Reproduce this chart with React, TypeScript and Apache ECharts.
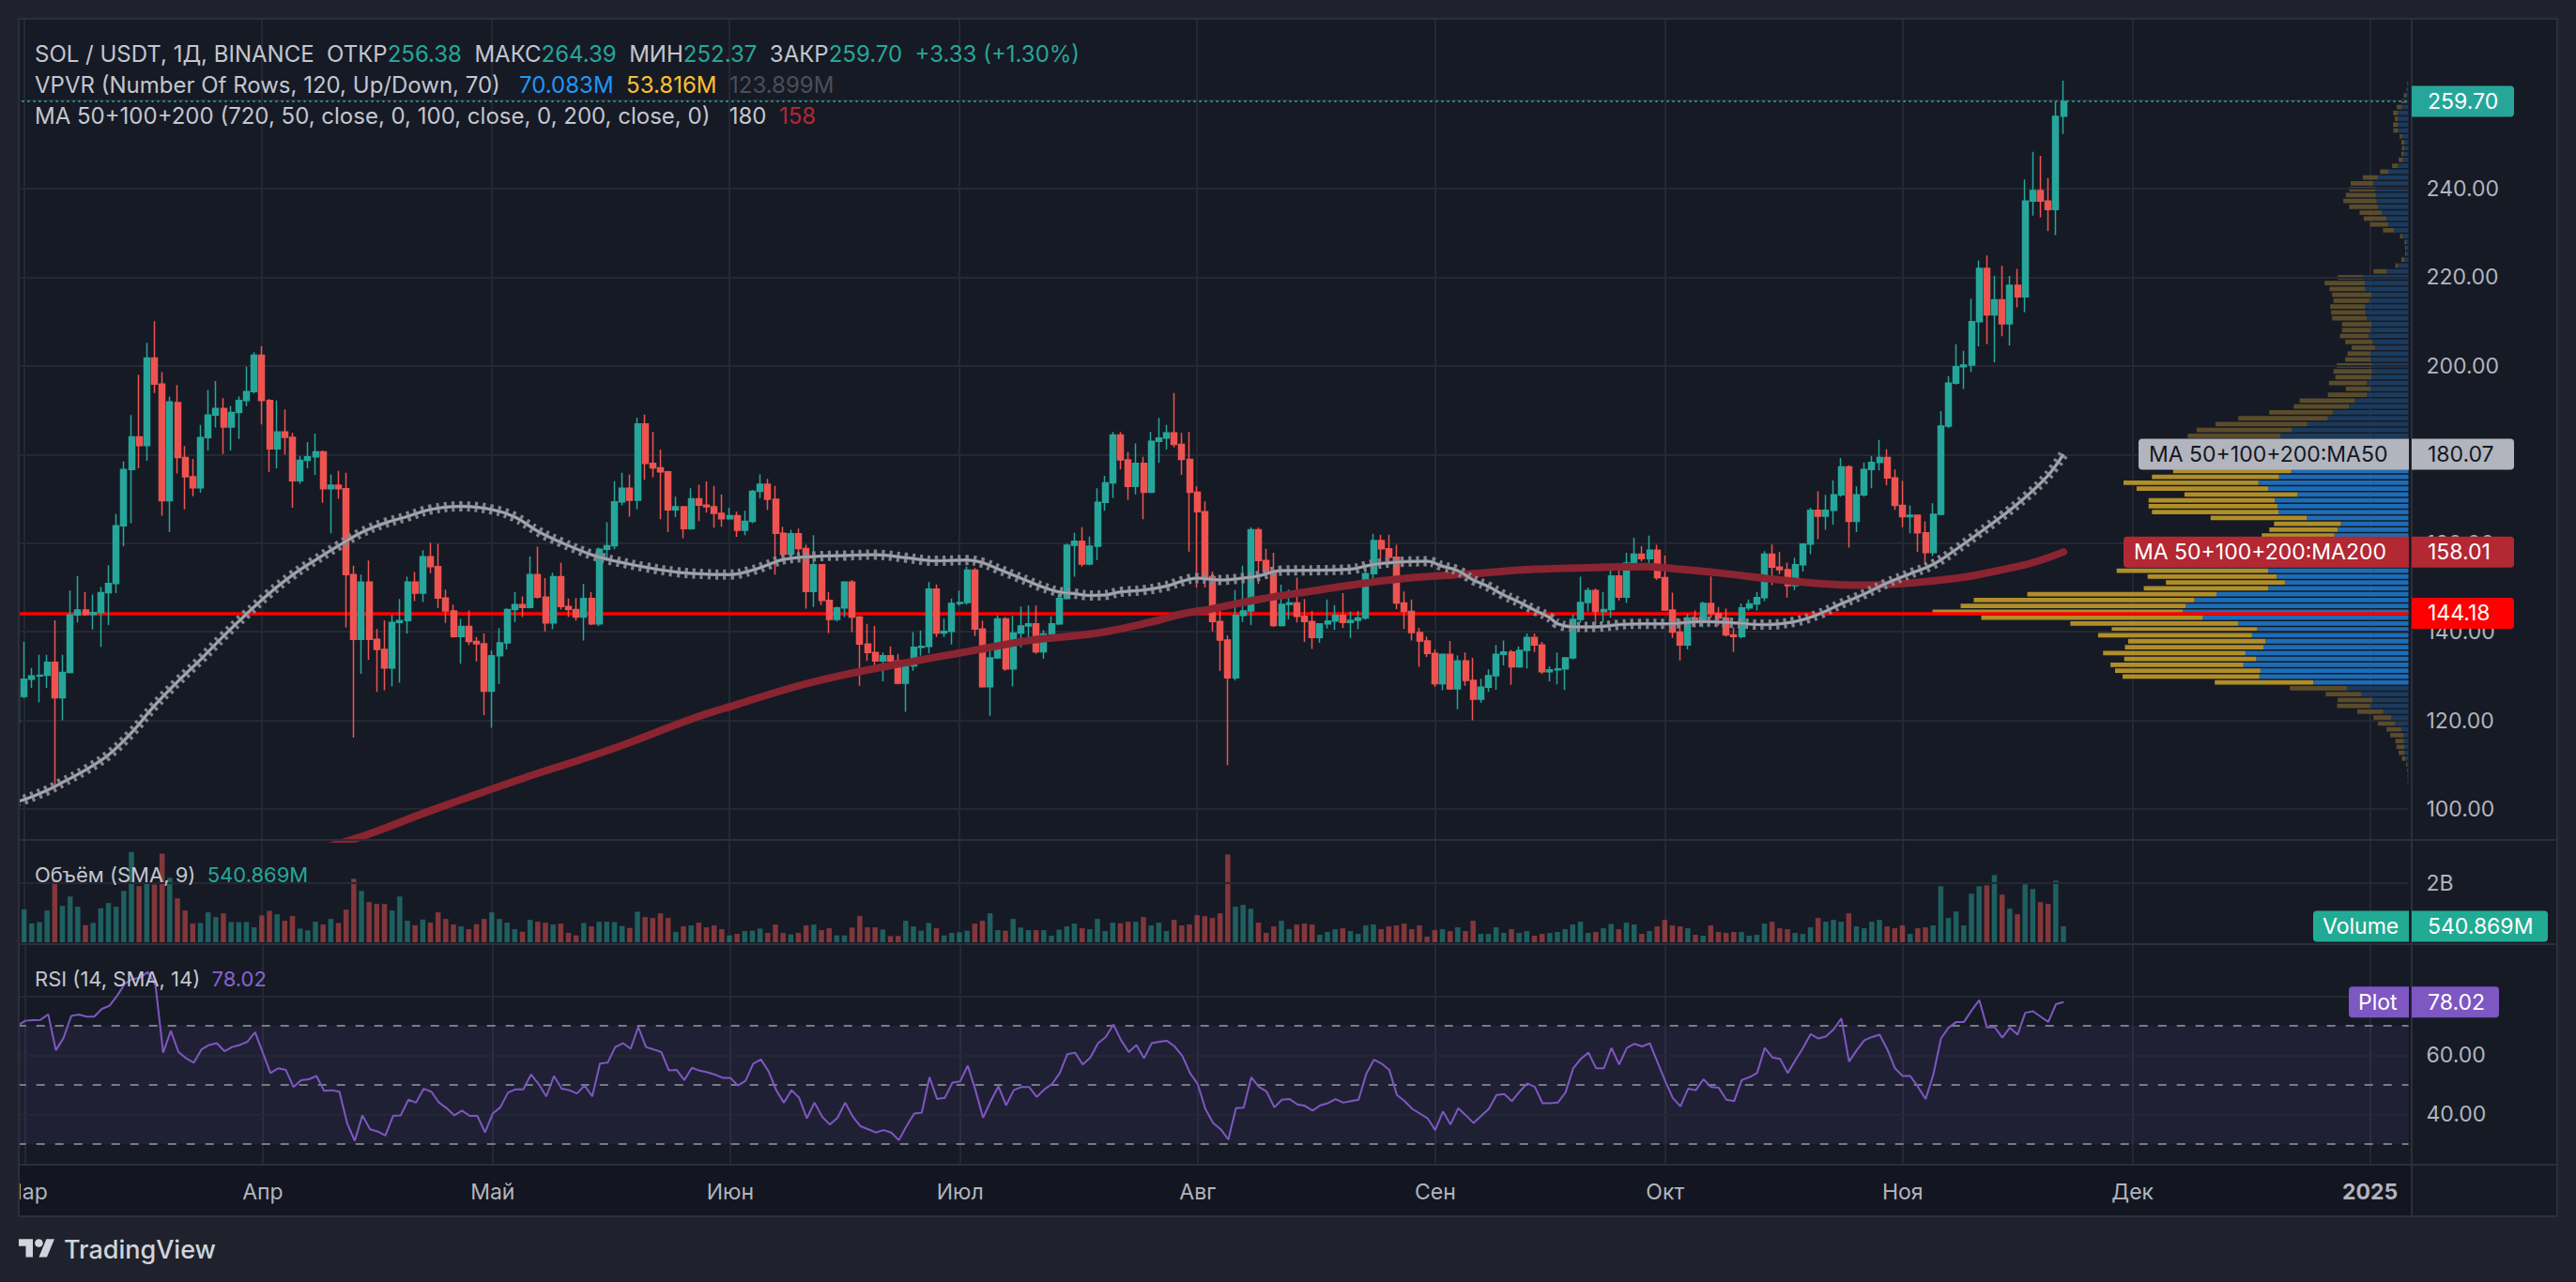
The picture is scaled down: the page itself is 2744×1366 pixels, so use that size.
import React, { useEffect, useRef } from "react";
import * as echarts from "echarts";

const W = 2744;
const H = 1366;
const FONT = "Inter, 'Noto Sans', Roboto, sans-serif";
const UP = "#26a69a";
const DOWN = "#ef5350";
const TEXT = "#c3c6ce";
const AXIS_TEXT = "#b2b5be";
const GRID_C = "#242833";
const SEP = "#2b2f3a";
const OUTER = "#1f222c";
const PANE = "#161a25";

// ---------------- DATA ----------------
// daily candles [open, high, low, close], index 0 = 29 Feb 2024
const candles: [number, number, number, number][] = [
  [119.5, 126.5, 118.7, 125.4],
  [125.4, 137.7, 125.0, 129.3], [129.3, 131.8, 127.3, 130.0], [130.0, 134.8, 124.1, 130.2], [130.2, 134.8, 127.3, 133.1],
  [133.1, 142.6, 105.4, 125.1], [125.1, 134.8, 120.0, 130.8], [130.8, 149.3, 130.6, 143.8], [143.8, 152.6, 142.1, 144.9],
  [144.9, 149.0, 143.6, 143.9], [143.9, 148.4, 140.5, 144.3], [144.3, 150.1, 136.6, 148.8], [148.8, 155.0, 141.5, 150.9],
  [150.9, 166.6, 148.7, 163.9], [163.9, 178.4, 159.3, 176.6], [176.6, 188.9, 164.5, 184.0], [184.0, 198.0, 176.9, 182.0],
  [182.0, 205.2, 178.6, 201.8], [201.8, 210.1, 193.9, 195.9], [195.9, 198.6, 166.2, 169.6], [169.6, 193.1, 162.5, 191.9],
  [191.7, 195.7, 175.7, 179.3], [179.3, 181.9, 167.6, 175.0], [175.0, 179.0, 170.6, 172.5], [172.5, 186.7, 171.4, 183.8],
  [183.8, 194.6, 180.9, 188.9], [188.9, 196.6, 186.1, 190.4], [190.4, 192.7, 180.1, 186.2], [186.2, 191.0, 180.9, 189.5],
  [189.5, 193.1, 183.5, 192.2], [192.2, 199.8, 190.9, 194.2], [194.2, 203.1, 193.8, 202.4],
  [202.4, 204.4, 186.8, 192.2], [192.2, 192.5, 176.1, 181.3], [181.3, 192.2, 176.9, 185.1], [185.1, 190.2, 180.0, 183.9],
  [183.9, 184.9, 168.0, 174.1], [174.1, 179.7, 173.4, 178.7], [178.7, 182.8, 176.9, 179.5], [179.5, 184.7, 175.4, 180.6],
  [180.6, 180.9, 169.1, 172.3], [172.3, 175.5, 162.2, 173.1], [173.1, 176.3, 170.0, 172.3], [172.3, 175.9, 141.0, 152.9],
  [152.9, 154.9, 116.1, 138.3], [138.3, 152.9, 130.5, 151.2], [151.2, 156.1, 133.7, 138.3], [138.3, 140.6, 126.4, 136.0],
  [136.0, 142.6, 126.8, 131.8], [131.8, 143.8, 127.7, 142.1], [142.1, 147.4, 128.5, 142.5], [142.5, 152.4, 139.6, 151.2],
  [151.2, 153.5, 146.9, 148.7], [148.7, 158.4, 146.7, 156.9], [156.9, 160.1, 153.2, 154.7], [154.7, 159.9, 145.4, 147.6],
  [147.6, 149.5, 142.0, 144.7], [144.7, 146.1, 138.7, 138.9], [138.9, 142.9, 132.8, 141.2], [141.2, 144.8, 137.0, 137.8],
  [137.8, 138.8, 133.3, 137.3], [137.3, 139.6, 121.2, 126.6],
  [126.6, 135.8, 118.4, 134.6], [134.6, 140.8, 128.2, 137.5], [137.5, 145.3, 136.0, 145.0], [145.0, 149.0, 142.2, 146.1],
  [146.1, 148.0, 143.3, 145.5], [145.5, 157.0, 145.3, 152.9], [152.9, 159.2, 147.5, 147.8], [147.8, 152.1, 140.1, 142.0],
  [142.0, 153.3, 140.6, 152.4], [152.4, 155.6, 145.0, 145.7], [145.7, 147.5, 143.3, 145.0], [145.0, 147.6, 142.5, 143.3],
  [143.3, 150.8, 138.0, 147.5], [147.5, 149.0, 141.5, 141.8], [141.8, 159.0, 141.3, 158.6], [158.6, 164.7, 156.7, 159.4],
  [159.4, 174.0, 158.6, 169.3], [169.3, 175.9, 168.5, 172.4], [172.4, 175.5, 166.0, 169.7], [169.7, 188.3, 167.6, 186.9],
  [186.9, 189.0, 174.3, 178.0], [178.0, 185.1, 174.9, 177.0], [177.0, 181.1, 165.4, 176.1], [176.1, 176.3, 162.5, 167.5],
  [167.5, 170.5, 165.9, 168.2], [168.2, 168.3, 161.1, 163.3], [163.3, 172.4, 163.0, 170.0], [170.0, 173.2, 165.0, 168.6],
  [168.6, 173.9, 166.9, 168.2], [168.2, 172.9, 163.5, 166.7], [166.7, 171.0, 163.7, 165.5],
  [165.5, 168.0, 165.3, 166.2], [166.2, 167.1, 161.4, 162.9], [162.9, 167.3, 161.8, 164.9], [164.9, 172.0, 164.5, 171.7],
  [171.7, 175.5, 170.1, 173.3], [173.3, 174.5, 167.5, 169.9], [169.9, 172.9, 152.9, 162.2], [162.2, 163.7, 157.2, 157.5],
  [157.5, 163.0, 156.7, 162.1], [162.1, 163.3, 157.5, 158.8], [158.8, 159.6, 145.2, 149.1], [149.1, 161.8, 145.6, 155.1],
  [155.1, 155.3, 146.0, 147.1], [147.1, 149.0, 139.7, 142.8], [142.8, 145.7, 142.3, 145.4], [145.4, 151.4, 143.3, 151.2],
  [151.2, 151.7, 139.9, 143.3], [143.3, 143.6, 127.8, 137.2], [137.2, 141.8, 133.4, 135.3], [135.3, 141.3, 131.9, 133.4],
  [133.4, 135.3, 128.8, 134.6], [134.6, 136.7, 133.1, 133.4], [133.4, 135.0, 128.1, 128.4], [128.4, 132.5, 121.9, 132.3],
  [132.3, 139.9, 131.2, 136.5], [136.5, 140.3, 134.6, 136.7], [136.7, 151.2, 135.1, 149.6], [149.6, 150.7, 138.8, 139.7],
  [139.7, 143.0, 138.8, 140.1], [140.1, 147.5, 137.1, 146.4],
  [146.4, 149.3, 145.9, 146.6], [146.6, 154.7, 146.1, 153.9], [153.9, 154.4, 139.0, 140.6], [140.6, 142.5, 127.4, 127.6],
  [127.6, 136.5, 121.0, 134.1], [134.1, 143.7, 133.9, 142.9], [142.9, 143.3, 131.2, 131.6], [131.6, 143.6, 127.7, 139.7],
  [139.7, 145.7, 136.5, 141.3], [141.3, 145.9, 138.5, 141.8], [141.8, 145.9, 135.0, 135.5], [135.5, 140.4, 133.9, 139.5],
  [139.5, 143.5, 137.8, 141.8], [141.8, 148.6, 141.5, 147.5], [147.5, 159.9, 147.3, 159.5], [159.5, 162.3, 152.4, 160.4],
  [160.4, 163.6, 154.7, 155.3], [155.3, 161.5, 155.0, 159.3], [159.3, 172.4, 156.2, 169.2], [169.2, 175.2, 167.3, 173.6],
  [173.6, 185.1, 170.2, 184.4], [184.4, 185.1, 176.6, 178.8], [178.8, 180.6, 169.8, 172.8], [172.8, 182.5, 171.0, 178.0],
  [178.0, 179.5, 165.4, 171.5], [171.5, 185.1, 171.3, 183.0], [183.0, 188.3, 178.1, 183.7], [183.7, 186.7, 181.1, 184.9],
  [184.9, 193.9, 181.6, 182.3], [182.3, 184.9, 175.4, 178.9], [178.9, 185.1, 158.1, 171.5],
  [171.5, 172.8, 150.0, 167.1], [167.1, 169.4, 150.0, 152.4], [152.4, 153.6, 140.1, 142.3], [142.3, 146.1, 131.2, 138.1],
  [138.1, 139.2, 109.9, 129.6], [129.6, 149.4, 129.0, 143.7], [143.7, 154.9, 142.2, 144.7], [144.7, 163.6, 141.5, 163.0],
  [163.0, 163.5, 150.8, 156.1], [156.1, 158.7, 152.0, 153.6], [153.6, 157.8, 141.1, 141.4], [141.4, 150.6, 141.2, 146.2],
  [146.2, 149.5, 142.8, 146.5], [146.5, 152.2, 142.1, 143.5], [143.5, 147.4, 137.7, 142.3], [142.3, 144.7, 136.1, 138.7],
  [138.7, 141.9, 137.5, 141.8], [141.8, 147.3, 140.7, 142.4], [142.4, 146.0, 140.4, 143.7], [143.7, 148.7, 140.9, 142.1],
  [142.1, 144.6, 138.6, 142.6], [142.6, 144.7, 140.6, 143.1], [143.1, 155.2, 142.7, 153.1], [153.1, 162.1, 152.0, 160.6],
  [160.6, 161.9, 155.2, 158.7], [158.7, 161.9, 155.2, 156.8], [156.8, 159.6, 145.1, 146.5], [146.5, 149.1, 140.6, 144.6],
  [144.6, 147.3, 138.0, 139.8], [139.8, 140.9, 132.1, 137.9], [137.9, 138.9, 134.3, 135.1],
  [135.1, 136.0, 127.6, 128.3], [128.3, 135.1, 126.8, 134.9], [134.9, 137.9, 126.9, 127.1], [127.1, 134.7, 122.5, 133.4],
  [133.4, 135.3, 127.8, 129.0], [129.0, 134.1, 120.0, 124.8], [124.8, 129.4, 124.0, 127.5], [127.5, 131.5, 126.4, 130.1],
  [130.1, 137.0, 126.9, 134.9], [134.9, 138.0, 132.4, 135.4], [135.4, 135.9, 128.0, 132.1], [132.1, 136.7, 131.9, 135.8],
  [135.8, 139.6, 131.7, 138.7], [138.7, 139.6, 135.4, 137.0], [137.0, 137.7, 130.5, 131.0], [131.0, 132.2, 128.8, 131.4],
  [131.4, 135.3, 128.1, 131.6], [131.6, 134.3, 126.9, 134.1], [134.1, 143.9, 133.8, 142.8], [142.8, 152.4, 142.1, 146.6],
  [146.6, 150.0, 144.6, 149.3], [149.3, 149.8, 140.9, 144.6], [144.6, 149.0, 142.1, 145.0], [145.0, 153.8, 143.2, 152.6],
  [152.6, 153.8, 147.1, 147.8], [147.8, 157.8, 146.5, 155.5], [155.5, 161.2, 155.2, 157.5], [157.5, 159.3, 155.9, 156.5],
  [156.5, 161.7, 155.0, 158.4], [158.4, 159.6, 151.7, 152.2],
  [152.2, 157.2, 144.8, 144.9], [144.9, 148.8, 138.6, 139.9], [139.9, 142.9, 133.5, 137.0], [137.0, 144.0, 136.0, 143.1],
  [143.1, 144.8, 141.0, 142.3], [142.3, 146.8, 141.0, 146.4], [146.4, 152.5, 143.1, 144.1], [144.1, 145.6, 141.4, 143.1],
  [143.1, 145.2, 138.9, 139.3], [139.3, 141.0, 135.5, 138.9], [138.9, 146.4, 138.5, 145.4], [145.4, 147.3, 144.8, 146.3],
  [146.3, 149.0, 144.8, 147.7], [147.7, 158.2, 146.9, 157.5], [157.5, 159.7, 150.5, 154.6], [154.6, 158.0, 153.0, 154.0],
  [154.0, 155.6, 147.7, 150.4], [150.4, 156.7, 149.4, 155.1], [155.1, 160.0, 153.6, 159.8], [159.8, 168.0, 157.5, 167.4],
  [167.4, 171.7, 160.9, 166.1], [166.1, 170.9, 163.0, 167.4], [167.4, 174.2, 164.2, 170.9], [170.9, 179.2, 170.5, 177.2],
  [177.2, 177.6, 159.0, 164.9], [164.9, 172.8, 162.5, 170.9], [170.9, 178.2, 170.5, 176.6], [176.6, 179.7, 172.4, 178.2],
  [178.2, 183.3, 176.4, 179.3], [179.3, 181.2, 173.1, 174.7], [174.7, 176.6, 167.5, 168.5],
  [168.5, 174.1, 163.6, 166.0], [166.0, 168.5, 162.2, 166.3], [166.3, 166.4, 158.0, 162.3], [162.3, 164.9, 155.2, 157.9],
  [157.9, 169.0, 157.1, 166.5], [166.5, 189.8, 166.3, 186.4], [186.4, 197.7, 186.0, 196.1], [196.1, 204.9, 195.8, 199.8],
  [199.8, 203.4, 194.8, 200.2], [200.2, 215.1, 198.6, 210.0], [210.0, 223.8, 204.4, 222.0], [222.0, 224.9, 204.9, 211.5],
  [211.5, 220.3, 200.8, 214.9], [214.9, 222.6, 206.7, 209.5], [209.5, 220.3, 204.6, 218.2], [218.2, 221.9, 213.2, 215.6],
  [215.6, 242.1, 212.1, 237.2], [237.2, 248.3, 233.9, 239.6], [239.6, 247.4, 233.5, 237.2], [237.2, 242.4, 230.4, 235.3],
  [235.3, 259.7, 229.5, 256.3], [256.38, 264.39, 252.37, 259.7],
];

// daily volume, millions USDT
const volumes: number[] = [
  900,
  1105, 632, 684, 1074, 2127, 1232, 1548, 1200, 579, 653,
  1148, 1327, 1200, 1737, 3054, 1900, 2000, 1950, 3000, 2180,
  1485, 1074, 632, 653, 1011, 853, 979, 684, 684, 684,
  505, 906, 1064, 948, 727, 885, 463, 400, 695, 600,
  790, 653, 1105, 2148, 1737, 1358, 1295, 1295, 1074, 1548,
  727, 579, 769, 663, 1011, 790, 600, 537, 442, 611,
  790, 1011, 790, 663, 442, 358, 758, 695, 663, 600,
  632, 316, 232, 653, 537, 695, 695, 684, 548, 484,
  1032, 853, 821, 979, 821, 347, 537, 569, 663, 505,
  569, 442, 232, 284, 379, 390, 463, 316, 600, 316,
  263, 316, 569, 600, 411, 474, 232, 232, 495, 885,
  505, 505, 432, 211, 211, 727, 537, 390, 653, 474,
  232, 316, 337, 390, 632, 727, 979, 411, 390, 790,
  495, 411, 411,
  411, 221, 421, 537, 632, 474, 442,
  790, 379, 663, 642, 695, 695, 853, 569, 663, 379,
  758, 569, 600, 916, 885, 821, 979, 2969, 1200, 1264,
  1137, 663, 316, 537, 727, 442, 600, 632, 600, 253,
  347, 442, 474, 379, 284, 569, 600, 442, 537, 569,
  632, 442, 569, 190, 411, 442, 379, 505, 379, 727,
  284, 284, 505, 316, 442, 316, 379, 221, 284, 316,
  347, 442, 600, 695, 316, 347, 474, 621, 442, 663,
  600, 284, 379, 537, 758, 569, 537, 474, 253, 221,
  569, 347, 316, 347, 347, 221, 253, 632, 695, 474,
  442, 316, 284, 505, 821, 695, 758, 695, 979, 537,
  474, 695, 758, 537, 474, 569, 284, 474, 505, 569,
  1895, 821, 1042, 569, 1643, 1895, 1927, 2274, 1611, 1137,
  948, 1959, 1801, 1358, 1295, 2085, 540.869,
];

// RSI (14) per day
const rsi: number[] = [
  70.0, 71.7, 71.9, 72.0, 73.9, 61.7, 65.9, 73.3, 73.8, 73.1,
  73.1, 75.7, 76.8, 80.2, 84.2, 85.8, 86.3, 88.2, 83.7, 60.9,
  68.3, 61.1, 59.0, 57.5, 62.0, 63.5, 64.1, 61.4, 62.8, 63.5,
  64.6, 67.8, 60.9, 54.0, 55.6, 55.1, 49.3, 51.6, 51.9, 53.0,
  48.0, 48.2, 47.7, 37.1, 31.1, 39.7, 35.0, 34.2, 32.9, 39.5,
  39.7, 45.0, 44.0, 48.7, 47.7, 44.0, 42.1, 39.7, 41.3, 39.5,
  39.5, 33.9, 40.3, 42.4, 47.4, 48.5, 48.5, 53.5, 50.3, 46.1,
  53.0, 48.7, 48.2, 47.1, 49.8, 46.1, 57.2, 57.5, 62.8, 64.1,
  62.2, 69.6, 62.8, 62.0, 61.1, 54.9, 55.1, 51.6, 55.8, 54.8,
  54.3, 53.5, 52.4, 52.4, 49.8, 51.4, 57.2, 58.6, 54.6, 48.2,
  44.0, 48.2, 45.6, 38.7, 44.0, 39.2, 36.6, 38.9, 44.0, 39.2,
  36.0, 35.0, 33.9, 34.7, 33.9, 31.3, 36.0, 40.3, 40.6, 52.6,
  45.2, 45.6, 50.8, 51.2, 56.5, 48.2, 38.9, 44.5, 49.5, 43.1,
  48.2, 49.3, 49.3, 45.9, 48.5, 50.3, 54.0, 60.4, 60.9, 56.9,
  59.3, 64.1, 66.2, 70.4, 65.1, 61.1, 63.5, 59.0, 64.1, 64.6,
  64.9, 63.0, 59.8, 54.0, 50.3, 41.9, 37.1, 35.0, 31.5, 42.1,
  42.3, 52.6, 49.3, 47.7, 42.4, 45.0, 45.2, 43.4, 42.9, 41.3,
  43.1, 43.8, 45.2, 44.0, 44.5, 45.0, 53.7, 58.5, 57.2, 55.1,
  46.6, 44.5, 41.9, 40.3, 38.7, 34.7, 41.0, 36.6, 42.1, 39.7,
  37.1, 39.5, 41.9, 46.6, 46.9, 44.5, 47.7, 50.5, 49.3, 43.8,
  43.8, 44.0, 47.4, 55.6, 58.8, 60.9, 55.6, 55.6, 62.5, 56.9,
  62.5, 63.9, 63.0, 64.1, 57.7, 51.4, 45.6, 42.7, 48.7, 48.2,
  51.9, 49.3, 49.0, 45.0, 44.5, 51.6, 52.6, 54.0, 62.5, 59.3,
  58.8, 54.0, 58.3, 62.5, 67.2, 65.7, 66.4, 68.8, 72.5, 57.9,
  61.7, 65.1, 66.2, 67.0, 62.0, 55.6, 53.0, 53.0, 49.3, 45.2,
  53.5, 65.7, 69.4, 71.3, 71.3, 75.2, 78.7, 69.4, 69.6, 66.0,
  69.4, 67.0, 74.4, 74.9, 73.1, 71.3, 77.3, 78.02,
];

// MA50 readings [dayIndex, value]
const ma50: [number, number][] = [
  [0, 101.7], [1, 102.1], [4, 104.2], [6, 106.0], [9, 108.8], [12, 112.2], [15, 117.2], [18, 123.3], [21, 128.7],
  [24, 133.7], [27, 139.0], [30, 144.0], [33, 148.7], [36, 152.8], [39, 156.2], [42, 159.4], [45, 162.4], [48, 164.5],
  [51, 166.0], [54, 167.6], [58, 168.3], [62, 167.6], [65, 165.9], [68, 162.7], [71, 160.2], [75, 157.4], [78, 156.0],
  [82, 154.6], [86, 153.5], [90, 153.0], [93, 152.9], [96, 153.9], [98, 155.1], [100, 156.3], [104, 157.0], [108, 157.2],
  [112, 157.4], [116, 156.7], [120, 156.0], [124, 156.2], [126, 155.6], [128, 154.2], [130, 152.8], [132, 151.4],
  [134, 150.0], [136, 149.0], [138, 148.6], [140, 148.2], [142, 148.3], [144, 149.0], [147, 149.4], [150, 150.3],
  [152, 151.4], [154, 152.1], [157, 151.7], [160, 152.1], [162, 152.6], [165, 153.8], [170, 153.9], [174, 154.1],
  [177, 155.2], [181, 155.8], [184, 155.9], [186, 154.8], [188, 153.8], [190, 151.7], [192, 150.2], [194, 148.3],
  [196, 146.7], [198, 144.9], [200, 143.2], [201, 141.8], [203, 141.1], [206, 141.1], [209, 141.6], [212, 141.8],
  [215, 141.8], [220, 142.3], [224, 142.0], [228, 141.6], [232, 142.3], [235, 143.9], [238, 146.3], [241, 148.5],
  [244, 151.0], [247, 153.1], [250, 155.2], [253, 158.6], [256, 162.3], [259, 166.1], [262, 170.3], [265, 175.3],
  [267, 180.07],
];

// MA200 readings [dayIndex, value]
const ma200: [number, number][] = [
  [36, 89.5], [44, 93.2], [54, 99.6], [66, 106.9], [74, 111.4], [80, 115.0], [88, 120.3], [94, 123.6], [102, 127.8],
  [108, 130.3], [115, 132.7], [124, 135.5], [132, 138.0], [141, 139.7], [148, 142.2], [152, 144.0], [156, 145.2],
  [162, 147.3], [169, 149.2], [176, 151.0], [182, 152.2], [190, 153.1], [198, 154.1], [206, 154.5], [212, 154.7],
  [216, 154.3], [222, 153.3], [229, 151.9], [235, 150.9], [241, 150.5], [247, 151.0], [254, 152.3], [259, 154.0],
  [263, 155.6], [267, 158.01],
];

// Volume profile (VPVR), 120 rows from bottom, millions
const vpUp: number[] = [
  5, 6, 8, 14, 35, 42, 42, 49, 49, 76,
  139, 181, 267, 406, 382, 500, 656, 1014, 1587, 1576,
  1757, 1622, 1736, 1545, 1524, 1667, 1611, 1813, 2190, 2400,
  2370, 2280, 2045, 1493, 1316, 1403, 1493, 1472, 1396, 1257,
  1118, 910, 788, 753, 719, 1083, 1385, 1396, 1424, 1181,
  1493, 1597, 1378, 1247, 1188, 1257, 1188, 1292, 1326, 1361,
  1240, 1076, 858, 806, 632, 569, 441, 406, 441, 396,
  389, 389, 406, 406, 354, 382, 424, 406, 396, 441,
  458, 458, 417, 396, 458, 465, 486, 233, 111, 42,
  24, 24, 24, 59, 153, 215, 233, 285, 326, 337,
  347, 354, 372, 326, 215, 111, 59, 49, 42, 42,
  69, 111, 111, 111, 111, 70.083, 35, 24, 24, 10,
];
const vpDown: number[] = [
  3, 4, 6, 10, 34, 62, 86, 90, 145, 157,
  187, 191, 278, 354, 371, 382, 608, 1049, 1458, 1549,
  1417, 1406, 1517, 1475, 1462, 1639, 1549, 1788, 2360, 2670,
  2400, 2350, 2015, 1326, 1267, 1375, 1615, 1521, 1389, 1285,
  1111, 833, 774, 729, 712, 1024, 1347, 1372, 1344, 1205,
  1403, 1438, 1354, 1260, 1111, 1111, 1007, 1076, 972, 990,
  1017, 980, 955, 677, 590, 590, 417, 261, 406, 382,
  410, 375, 268, 243, 250, 292, 305, 302, 312, 372,
  365, 375, 382, 417, 382, 427, 267, 139, 28, 34,
  11, 11, 18, 31, 118, 195, 243, 236, 306, 357,
  320, 278, 243, 160, 87, 63, 45, 27, 27, 34,
  25, 49, 52, 35, 52, 53.816, 41, 25, 0, 5,
];
const vpLow = 105.4;
const vpHigh = 264.39;
const vaLow = 127.9;
const vaHigh = 181.5;
const pocPrice = 144.18;

const lastPrice = 259.7;
const ma50Last = 180.07;
const ma200Last = 158.01;
const lastVolume = 540.869;
const lastRsi = 78.02;

const priceTicks = [100, 120, 140, 160, 180, 200, 220, 240, 260];
const priceLabels = [100, 120, 140, 160, 200, 220, 240];
const volumeTicks = [2000];
const rsiGridLevels = [40, 60, 80];
const rsiLabels = [40, 60];
const rsiLevels = [30, 50, 70];
const monthNames = ["Янв", "Фев", "Мар", "Апр", "Май", "Июн", "Июл", "Авг", "Сен", "Окт", "Ноя", "Дек"];

const headerLine1 =
  "SOL / USDT, 1Д, BINANCE  ОТКР{g|256.38}  МАКС{g|264.39}  МИН{g|252.37}  ЗАКР{g|259.70}  {g|+3.33 (+1.30%)}";
const headerLine2 = "VPVR (Number Of Rows, 120, Up/Down, 70)   {b|70.083M}  {y|53.816M}  {k|123.899M}";
const headerLine3 = "MA 50+100+200 (720, 50, close, 0, 100, close, 0, 200, close, 0)   180  {r|158}";
const volumeLegend = "Объём (SMA, 9)  {g|540.869M}";
const rsiLegend = "RSI (14, SMA, 14)  {p|78.02}";

// category axis: one slot per calendar day from 29 Feb 2024
const startMs = Date.UTC(2024, 1, 29);
const dayCount = 313;
const days: string[] = [];
for (let i = 0; i < dayCount; i++) {
  const d = new Date(startMs + i * 86400000);
  days.push(d.toISOString().slice(0, 10));
}
const isMonthStart = (_i: number, v: string) => typeof v === "string" && v.slice(8, 10) === "01";

// ---------------- layout ----------------
const FRAME = { l: 20, t: 20, r: 2724, b: 1296 };
const AXIS_X = 2569;
const GRID_L = 17.5;
const GRID_W = 2548;
const SEP1 = 895;
const SEP2 = 1006;
const SEP3 = 1241;

const VOL_UP = "rgba(38,166,154,0.5)";
const VOL_DN = "rgba(239,83,80,0.5)";

echarts.graphic.registerShape(
  "tvlogo",
  echarts.graphic.extendPath("M14 22H7V11H0V4h14v18zM28 22h-8l7.5-18h8L28 22z", {}) as any
);

function catAxis(gridIndex: number, labels: boolean) {
  return {
    type: "category",
    gridIndex,
    data: days,
    boundaryGap: false,
    axisLine: { show: false },
    axisTick: { show: false },
    splitLine: { show: true, interval: isMonthStart, lineStyle: { color: GRID_C, width: 2 } },
    axisLabel: labels
      ? {
          show: true,
          interval: isMonthStart,
          margin: 17,
          color: AXIS_TEXT,
          fontSize: 23,
          fontFamily: FONT,
          formatter: (v: string) => {
            const m = parseInt(v.slice(5, 7), 10) - 1;
            if (m === 0) return "{b|" + v.slice(0, 4) + "}";
            return monthNames[m];
          },
          rich: { b: { fontWeight: "bold", fontSize: 23, fontFamily: FONT, color: AXIS_TEXT } },
        }
      : { show: false },
  };
}

function hLines(values: number[], xIdx: number, yIdx: number, style: any, z: number) {
  return {
    type: "line",
    xAxisIndex: xIdx,
    yAxisIndex: yIdx,
    data: [],
    z,
    silent: true,
    markLine: {
      silent: true,
      symbol: ["none", "none"],
      label: { show: false },
      lineStyle: style,
      data: values.map((v) => ({ yAxis: v })),
    },
  };
}

function valueAxis(gridIndex: number, min: number, max: number, labels: number[], fmt: (v: number) => string) {
  return {
    type: "value",
    gridIndex,
    position: "right",
    min,
    max,
    axisLine: { show: false },
    axisTick: { show: false },
    splitLine: { show: false },
    axisLabel: {
      customValues: labels,
      margin: 19,
      color: AXIS_TEXT,
      fontSize: 23,
      fontFamily: FONT,
      formatter: (v: number) => (labels.indexOf(Math.round(v * 100) / 100) >= 0 ? fmt(v) : ""),
    },
  };
}

function buildOption() {
  const rowH = (vpHigh - vpLow) / vpUp.length;
  const vpData = vpUp.map((u, i) => [i, u, vpDown[i]]);
  const candleData = candles.map(([o, h, l, c]) => [o, c, l, h]);
  const volData = volumes.map((v, i) => ({
    value: v,
    itemStyle: { color: candles[i][3] >= candles[i][0] ? VOL_UP : VOL_DN },
  }));

  return {
    animation: false,
    backgroundColor: PANE,
    textStyle: { fontFamily: FONT },
    grid: [
      { left: GRID_L, top: 20, width: GRID_W, height: 874 },
      { left: GRID_L, top: 896, width: GRID_W, height: 108 },
      { left: GRID_L, top: 1007, width: GRID_W, height: 234 },
    ],
    xAxis: [
      catAxis(0, false),
      catAxis(1, false),
      catAxis(2, true),
      { type: "value", gridIndex: 0, inverse: true, min: 0, max: 25480, show: false },
    ],
    yAxis: [
      valueAxis(0, 93.22, 278.35, priceLabels, (v) => v.toFixed(2)),
      valueAxis(1, 0, 3428, volumeTicks, (v) => v / 1000 + "B"),
      valueAxis(2, 23.0, 97.3, rsiLabels, (v) => v.toFixed(2)),
    ],
    series: [
      hLines(priceTicks, 0, 0, { color: GRID_C, width: 2, type: "solid" }, 1),
      {
        type: "custom",
        name: "vpvr",
        xAxisIndex: 3,
        yAxisIndex: 0,
        z: 3,
        silent: true,
        clip: true,
        data: vpData,
        renderItem: (_p: any, api: any) => {
          const i = api.value(0);
          const up = api.value(1);
          const dn = api.value(2);
          const lo = vpLow + i * rowH;
          const hi = lo + rowH;
          const pTop = api.coord([0, hi]);
          const pBot = api.coord([0, lo]);
          const xRight = pTop[0];
          const xUp = api.coord([up, lo])[0];
          const xTot = api.coord([up + dn, lo])[0];
          const y = pTop[1] + 0.75;
          const h = Math.max(1, pBot[1] - pTop[1] - 1.5);
          const mid = lo + rowH / 2;
          const inVA = mid >= vaLow && mid <= vaHigh;
          return {
            type: "group",
            children: [
              { type: "rect", shape: { x: xUp, y, width: xRight - xUp, height: h }, style: { fill: inVA ? "#1d6cb6" : "#1b3a5c" } },
              { type: "rect", shape: { x: xTot, y, width: xUp - xTot, height: h }, style: { fill: inVA ? "#b08e28" : "#5a4c2b" } },
            ],
          };
        },
      },
      {
        type: "candlestick",
        xAxisIndex: 0,
        yAxisIndex: 0,
        data: candleData,
        barWidth: 6.5,
        clip: true,
        z: 5,
        itemStyle: { color: UP, color0: DOWN, borderColor: UP, borderColor0: DOWN, borderWidth: 1.5 },
      },
      {
        type: "line",
        xAxisIndex: 0,
        yAxisIndex: 0,
        data: ma200,
        smooth: 0.4,
        showSymbol: false,
        z: 6,
        lineStyle: { color: "#8a2431", width: 8, cap: "round" },
      },
      {
        type: "line",
        xAxisIndex: 0,
        yAxisIndex: 0,
        data: ma50,
        smooth: 0.4,
        showSymbol: false,
        z: 6,
        lineStyle: { color: "#83868f", width: 11, type: [3.2, 4.97] },
      },
      {
        type: "line",
        xAxisIndex: 0,
        yAxisIndex: 0,
        data: ma50,
        smooth: 0.4,
        showSymbol: false,
        z: 6,
        lineStyle: { color: "#8c8f98", width: 3.5 },
      },
      {
        type: "line",
        xAxisIndex: 0,
        yAxisIndex: 0,
        data: ma50,
        smooth: 0.4,
        showSymbol: false,
        z: 6,
        lineStyle: { color: "#aeb1b9", width: 1.2 },
      },
      hLines([pocPrice], 0, 0, { color: "#ff0000", width: 3.5, type: "solid" }, 9),
      hLines([lastPrice], 0, 0, { color: UP, width: 2, type: [2, 4] }, 9),
      hLines(volumeTicks, 1, 1, { color: GRID_C, width: 2, type: "solid" }, 1),
      {
        type: "bar",
        xAxisIndex: 1,
        yAxisIndex: 1,
        data: volData,
        barWidth: 5.5,
        z: 3,
      },
      {
        type: "line",
        xAxisIndex: 2,
        yAxisIndex: 2,
        data: [],
        silent: true,
        z: 1,
        markArea: {
          silent: true,
          itemStyle: { color: "rgba(126,87,194,0.1)" },
          data: [[{ yAxis: rsiLevels[0] }, { yAxis: rsiLevels[2] }]],
        },
      },
      hLines(rsiGridLevels, 2, 2, { color: GRID_C, width: 2, type: "solid" }, 1),
      hLines(rsiLevels, 2, 2, { color: "#787b86", width: 2, type: [9, 11] }, 2),
      {
        type: "line",
        xAxisIndex: 2,
        yAxisIndex: 2,
        data: rsi,
        showSymbol: false,
        z: 5,
        lineStyle: { color: "#7e57c2", width: 2 },
      },
    ],
  };
}

function tag(x: number, w: number, yc: number, fill: string, text: string, color: string, side: string, pad: number) {
  const r = side === "r" ? [0, 4, 4, 0] : side === "l" ? [4, 0, 0, 4] : 0;
  return [
    { type: "rect", z: 120, shape: { x, y: yc - 16.5, width: w, height: 33, r }, style: { fill } },
    {
      type: "text",
      z: 121,
      x: x + pad,
      y: yc,
      style: { text, fill: color, font: `23px ${FONT}`, verticalAlign: "middle", textVerticalAlign: "middle" },
    },
  ];
}

function legendText(x: number, y: number, text: string, size: number) {
  const base = { fontSize: size, fontFamily: FONT };
  return {
    type: "text",
    z: 110,
    x,
    y,
    style: {
      text,
      fill: TEXT,
      fontSize: size,
      fontFamily: FONT,
      verticalAlign: "middle",
      textVerticalAlign: "middle",
      rich: {
        g: { ...base, fill: UP, color: UP },
        b: { ...base, fill: "#2196f3", color: "#2196f3" },
        y: { ...base, fill: "#fbc02d", color: "#fbc02d" },
        k: { ...base, fill: "#4a4e59", color: "#4a4e59" },
        r: { ...base, fill: "#b22833", color: "#b22833" },
        p: { ...base, fill: "#8862d0", color: "#8862d0" },
      },
    },
  };
}

function buildGraphic(yP: (v: number) => number, yV: (v: number) => number, yR: (v: number) => number) {
  const els: any[] = [];
  // x-axis label row background
  els.push({ type: "rect", z: -1, shape: { x: FRAME.l, y: SEP3, width: AXIS_X - FRAME.l, height: FRAME.b - SEP3 }, style: { fill: "#131620" } });
  // outer area
  els.push({ type: "rect", z: 100, shape: { x: 0, y: 0, width: W, height: FRAME.t - 1 }, style: { fill: OUTER } });
  els.push({ type: "rect", z: 100, shape: { x: 0, y: 0, width: FRAME.l - 1, height: H }, style: { fill: OUTER } });
  els.push({ type: "rect", z: 100, shape: { x: FRAME.r + 1, y: 0, width: W - FRAME.r, height: H }, style: { fill: OUTER } });
  els.push({ type: "rect", z: 100, shape: { x: 0, y: FRAME.b + 1, width: W, height: H - FRAME.b }, style: { fill: OUTER } });
  // frame + separators
  els.push({ type: "rect", z: 101, shape: { x: FRAME.l, y: FRAME.t, width: FRAME.r - FRAME.l, height: FRAME.b - FRAME.t }, style: { fill: "none", stroke: SEP, lineWidth: 2 } });
  [SEP1, SEP2, SEP3].forEach((y) =>
    els.push({ type: "line", z: 101, shape: { x1: FRAME.l, y1: y, x2: FRAME.r, y2: y }, style: { stroke: SEP, lineWidth: 2 } })
  );
  els.push({ type: "line", z: 101, shape: { x1: AXIS_X, y1: FRAME.t, x2: AXIS_X, y2: FRAME.b }, style: { stroke: SEP, lineWidth: 2 } });

  // legends
  els.push(legendText(37, 57, headerLine1, 24));
  els.push(legendText(37, 90, headerLine2, 24));
  els.push(legendText(37, 123, headerLine3, 24));
  els.push(legendText(37, 932, volumeLegend, 22));
  els.push(legendText(37, 1043, rsiLegend, 22));

  // price axis tags
  els.push(...tag(AXIS_X, 109, yP(lastPrice), UP, lastPrice.toFixed(2), "#ffffff", "r", 17));
  els.push(...tag(2278, 288, yP(ma50Last), "#b2b5be", "MA 50+100+200:MA50", "#131722", "l", 11));
  els.push(...tag(AXIS_X, 109, yP(ma50Last), "#b2b5be", ma50Last.toFixed(2), "#131722", "r", 17));
  els.push(...tag(2262, 304, yP(ma200Last), "#b22833", "MA 50+100+200:MA200", "#ffffff", "l", 11));
  els.push(...tag(AXIS_X, 109, yP(ma200Last), "#b22833", ma200Last.toFixed(2), "#ffffff", "r", 17));
  els.push(...tag(AXIS_X, 109, yP(pocPrice), "#ff0000", pocPrice.toFixed(2), "#ffffff", "r", 17));
  // volume tags
  els.push(...tag(2464, 102, yV(lastVolume), "#22ab94", "Volume", "#ffffff", "l", 10));
  els.push(...tag(AXIS_X, 145, yV(lastVolume), "#22ab94", lastVolume.toFixed(3) + "M", "#ffffff", "r", 17));
  // rsi tags
  els.push(...tag(2502, 64, yR(lastRsi), "#7e57c2", "Plot", "#ffffff", "l", 10));
  els.push(...tag(AXIS_X, 93, yR(lastRsi), "#7e57c2", lastRsi.toFixed(2), "#ffffff", "r", 17));

  // TradingView logo
  els.push({ type: "tvlogo", z: 110, x: 20, y: 1316, scaleX: 1.07, scaleY: 1.07, style: { fill: "#d1d4dc" } });
  els.push({ type: "circle", z: 110, shape: { cx: 20 + 20 * 1.07, cy: 1316 + 8 * 1.07, r: 4 * 1.07 }, style: { fill: "#d1d4dc" } });
  els.push({
    type: "text",
    z: 110,
    x: 68,
    y: 1331,
    style: { text: "TradingView", fill: "#d1d4dc", font: `500 27px ${FONT}`, verticalAlign: "middle", textVerticalAlign: "middle" },
  });
  return els;
}

export default function App() {
  const ref = useRef<HTMLDivElement>(null);
  useEffect(() => {
    const el = ref.current;
    if (!el) return;
    const chart = echarts.init(el, undefined, { renderer: "svg", width: W, height: H });
    chart.setOption(buildOption() as any);
    const yP = (v: number) => chart.convertToPixel({ yAxisIndex: 0 } as any, v) as unknown as number;
    const yV = (v: number) => chart.convertToPixel({ yAxisIndex: 1 } as any, v) as unknown as number;
    const yR = (v: number) => chart.convertToPixel({ yAxisIndex: 2 } as any, v) as unknown as number;
    chart.setOption({ graphic: buildGraphic(yP, yV, yR) } as any);
    return () => chart.dispose();
  }, []);
  return <div ref={ref} style={{ position: "fixed", left: 0, top: 0, width: W, height: H }} />;
}
